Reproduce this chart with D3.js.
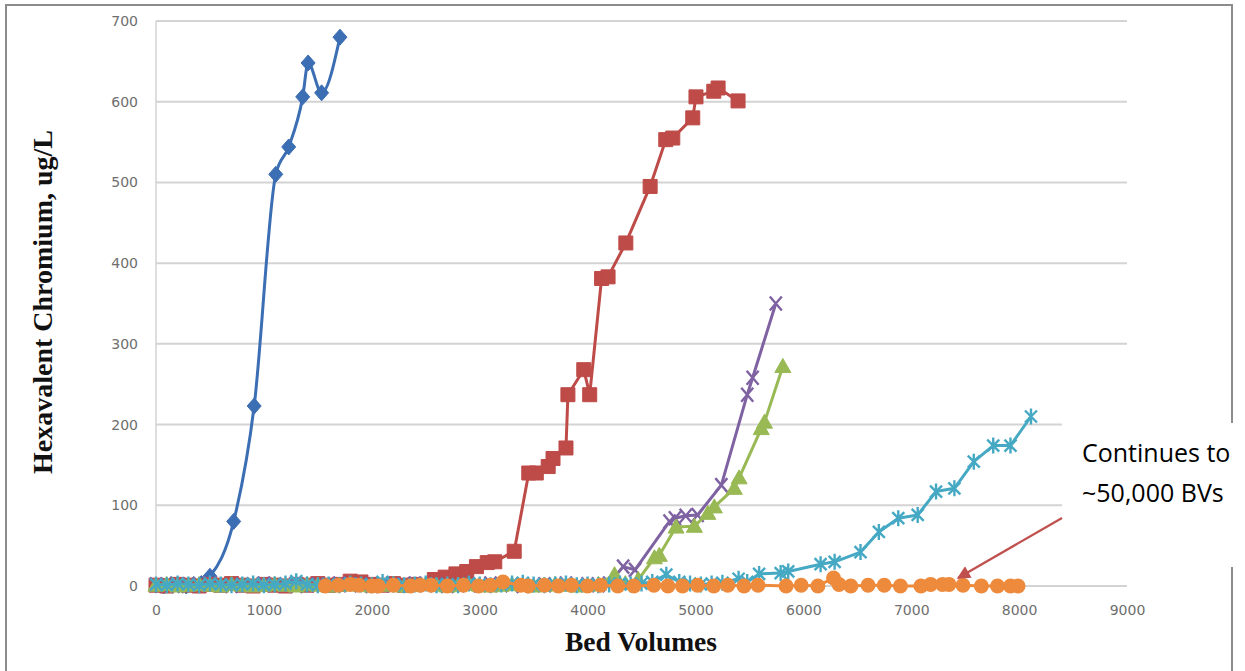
<!DOCTYPE html>
<html>
<head>
<meta charset="utf-8">
<script src="https://cdn.jsdelivr.net/npm/d3@7"></script>
<style>
  body { margin: 0; background: #ffffff; }
</style>
</head>
<body>
<script>
var w = 1245;
var h = 671;

// tick values
var xTicks = [0, 1000, 2000, 3000, 4000, 5000, 6000, 7000, 8000, 9000];
var yTicks = [0, 100, 200, 300, 400, 500, 600, 700];

// [bed volumes, Cr(VI) ug/L]
var blueData = [[0,1],[70,0],[140,2],[210,1],[280,0],[350,2],[420,3],[500,12],[720,80],[910,223],
    [1110,510],[1230,544],[1360,606],[1410,648],[1535,611],[1705,680]];

var redData = [[0,1],[100,0],[200,2],[300,1],[400,0],[500,2],[600,1],[700,3],[800,1],[900,0],
    [1000,2],[1100,1],[1200,0],[1300,2],[1400,1],[1500,3],[1600,1],[1700,2],[1800,6],[1900,5],
    [2000,2],[2100,1],[2200,3],[2300,1],[2400,2],[2580,8],[2680,11],[2780,15],[2880,18],[2970,24],
    [3070,29],[3140,30],[3320,43],[3455,140],[3525,140],[3635,148],[3680,158],[3800,171],[3818,237],
    [3965,268],[4020,237],[4130,381],[4190,383],[4355,425],[4580,495],[4725,553],[4790,555],
    [4975,580],[5005,606],[5170,613],[5210,617],[5395,601]];

var purpleData = [[0,2],[100,1],[200,0],[300,2],[400,1],[500,3],[600,1],[700,0],[800,2],[900,1],
    [1000,3],[1100,1],[1200,2],[1300,0],[1400,1],[1500,2],[1600,1],[1700,3],[1800,1],[1900,2],
    [2000,0],[2100,1],[2200,2],[2300,1],[2400,3],[2500,1],[2600,2],[2700,0],[2800,1],[2900,2],
    [3000,1],[3100,3],[3200,1],[3300,2],[3400,0],[3500,1],[3600,2],[3700,1],[3800,3],[3900,1],
    [4000,2],[4100,1],[4200,3],[4330,24],[4440,20],[4760,80],[4810,84],[4910,87],[5020,88],
    [5240,125],[5480,237],[5530,258],[5745,350]];

var greenData = [[0,1],[100,2],[200,0],[300,1],[400,2],[500,1],[600,0],[700,2],[800,1],[900,0],
    [1000,1],[1100,2],[1200,1],[1300,0],[1400,2],[1500,1],[1600,0],[1700,1],[1800,2],[1900,1],
    [2000,0],[2100,1],[2200,2],[2300,0],[2400,1],[2500,2],[2600,1],[2700,0],[2800,1],[2900,2],
    [3000,1],[3100,0],[3200,1],[3300,2],[3400,1],[3500,0],[3600,1],[3700,2],[3800,1],[3900,0],
    [4000,1],[4100,2],[4250,14],[4350,3],[4470,8],[4620,35],[4665,38],[4820,73],[4990,74],
    [5115,90],[5175,98],[5360,121],[5405,134],[5610,195],[5640,203],[5810,272]];

var tealData = [[0,2],[100,1],[200,3],[300,2],[400,1],[500,3],[600,2],[700,1],[800,2],[900,3],
    [1000,1],[1100,2],[1200,3],[1300,6],[1400,2],[1500,1],[1600,2],[1700,1],[1800,3],[1900,2],
    [2000,1],[2100,5],[2200,2],[2300,1],[2400,2],[2500,3],[2600,1],[2700,2],[2800,1],[2900,3],
    [3000,2],[3100,1],[3200,2],[3300,3],[3400,4],[3500,2],[3600,1],[3700,2],[3800,3],[3900,1],
    [4000,2],[4100,1],[4200,2],[4300,3],[4400,2],[4500,3],[4600,5],[4730,14],[4850,5],[4950,3],
    [5050,2],[5150,3],[5250,4],[5400,9],[5480,5],[5590,15],[5790,16],[5860,18],[6160,27],
    [6290,30],[6530,42],[6700,67],[6880,84],[7060,88],[7230,117],[7400,121],[7580,154],
    [7760,174],[7920,174],[8110,210]];

var orangeData = [[1570,0],[1690,1],[1800,2],[1880,1],[2000,0],[2060,0],[2200,1],[2360,0],
    [2450,1],[2550,1],[2700,0],[2850,1],[2990,0],[3100,1],[3216,5],[3380,1],[3450,0],[3600,1],
    [3730,0],[3850,1],[4000,0],[4120,1],[4280,0],[4430,0],[4615,1],[4745,0],[4880,0],[5020,1],
    [5170,0],[5300,1],[5450,0],[5580,1],[5840,0],[5980,1],[6135,0],[6280,10],[6330,2],[6440,0],
    [6600,1],[6750,1],[6900,0],[7090,0],[7180,2],[7290,2],[7350,2],[7480,1],[7650,0],[7800,0],
    [7920,0],[7990,0]];

var series = [
    {data: blueData,   color: "#3c6eb4", marker: "diamond",  smooth: true},
    {data: redData,    color: "#be4b48", marker: "square",   smooth: false},
    {data: purpleData, color: "#7f62a1", marker: "x",        smooth: false},
    {data: greenData,  color: "#98b954", marker: "triangle", smooth: false},
    {data: tealData,   color: "#46a9c4", marker: "star",     smooth: false},
    {data: orangeData, color: "#ee8a3c", marker: "circle",   smooth: false}
];

var markerPaths = {
    diamond: "M0,-8L7,0L0,8L-7,0Z",
    square: "M-7,-7L7,-7L7,7L-7,7Z",
    triangle: "M0,-8L8,6L-8,6Z",
    x: "M-6,-7L6,7M-6,7L6,-7",
    star: "M-6,-6L6,6M-6,6L6,-6M0,-8L0,8"
};

var svg = d3.select("body")
    .append("svg")
    .attr("width", w)
    .attr("height", h);

var x = d3.scaleLinear().domain([0, 9000]).range([156, 1127]);
var y = d3.scaleLinear().domain([0, 700]).range([586, 21]);

// outer frame
svg.append("rect")
    .attr("x", 6)
    .attr("y", 5)
    .attr("width", 1226)
    .attr("height", 690)
    .attr("fill", "none")
    .attr("stroke", "#8c8c8c")
    .attr("stroke-width", 2);

// gridlines
svg.append("g")
    .selectAll("line")
    .data(yTicks)
    .enter()
    .append("line")
    .attr("x1", x(0))
    .attr("x2", x(9000))
    .attr("y1", function(d) { return y(d); })
    .attr("y2", function(d) { return y(d); })
    .attr("stroke", "#d3d3d3")
    .attr("stroke-width", 2);

svg.append("line")
    .attr("x1", x(0)).attr("x2", x(0))
    .attr("y1", y(700)).attr("y2", y(0))
    .attr("stroke", "#d3d3d3")
    .attr("stroke-width", 1.5);

var yAxis = svg.append("g")
    .attr("transform", "translate(" + x(0) + ",0)")
    .call(d3.axisLeft(y).tickValues(yTicks).tickSize(0).tickPadding(18));

var xAxis = svg.append("g")
    .attr("transform", "translate(0," + y(0) + ")")
    .call(d3.axisBottom(x).tickValues(xTicks).tickSize(0).tickPadding(19).tickFormat(d3.format("d")));

[yAxis, xAxis].forEach(function(a) {
    a.select(".domain").remove();
    a.selectAll("text")
        .attr("font-family", "DejaVu Sans")
        .attr("font-size", 14)
        .attr("fill", "#6e6e6e");
});

// series
series.forEach(function(s) {
    var line = d3.line()
        .x(function(d) { return x(d[0]); })
        .y(function(d) { return y(d[1]); })
        .curve(s.smooth ? d3.curveMonotoneX : d3.curveLinear);

    svg.append("path")
        .datum(s.data)
        .attr("d", line)
        .attr("fill", "none")
        .attr("stroke", s.color)
        .attr("stroke-width", 3)
        .attr("stroke-linejoin", "round");

    var g = svg.append("g");
    if (s.marker == "circle") {
        g.selectAll("circle")
            .data(s.data)
            .enter()
            .append("circle")
            .attr("cx", function(d) { return x(d[0]); })
            .attr("cy", function(d) { return y(d[1]); })
            .attr("r", 7.5)
            .attr("fill", s.color);
    } else {
        var open = (s.marker == "x" || s.marker == "star");
        g.selectAll("path")
            .data(s.data)
            .enter()
            .append("path")
            .attr("transform", function(d) { return "translate(" + x(d[0]) + "," + y(d[1]) + ")"; })
            .attr("d", markerPaths[s.marker])
            .attr("fill", open ? "none" : s.color)
            .attr("stroke", s.color)
            .attr("stroke-width", open ? 2.4 : 1);
    }
});

// axis titles
svg.append("text")
    .text("Bed Volumes")
    .attr("x", 641)
    .attr("y", 651)
    .attr("text-anchor", "middle")
    .attr("font-family", "Liberation Serif")
    .attr("font-weight", "bold")
    .attr("font-size", 27.5)
    .attr("fill", "#111111");

svg.append("text")
    .text("Hexavalent Chromium, ug/L")
    .attr("transform", "translate(52,302) rotate(-90)")
    .attr("text-anchor", "middle")
    .attr("font-family", "Liberation Serif")
    .attr("font-weight", "bold")
    .attr("font-size", 28)
    .attr("fill", "#111111");

// annotation
svg.append("rect")
    .attr("x", 1062)
    .attr("y", 423)
    .attr("width", 190)
    .attr("height", 144)
    .attr("fill", "#ffffff");

svg.append("text")
    .text("Continues to")
    .attr("x", 1082)
    .attr("y", 462)
    .attr("font-family", "Open Sans")
    .attr("font-size", 25)
    .attr("fill", "#000000");

svg.append("text")
    .text("~50,000 BVs")
    .attr("x", 1082)
    .attr("y", 502)
    .attr("font-family", "Open Sans")
    .attr("font-size", 25)
    .attr("fill", "#000000");

svg.append("defs")
    .append("marker")
    .attr("id", "arrowhead")
    .attr("viewBox", "0 0 10 10")
    .attr("refX", 9)
    .attr("refY", 5)
    .attr("markerWidth", 7)
    .attr("markerHeight", 6)
    .attr("markerUnits", "strokeWidth")
    .attr("orient", "auto")
    .append("path")
    .attr("d", "M0,0L10,5L0,10Z")
    .attr("fill", "#c0504d");

svg.append("line")
    .attr("x1", 1062)
    .attr("y1", 518)
    .attr("x2", 958)
    .attr("y2", 578)
    .attr("stroke", "#c0504d")
    .attr("stroke-width", 2.2)
    .attr("marker-end", "url(#arrowhead)");
</script>
</body>
</html>
